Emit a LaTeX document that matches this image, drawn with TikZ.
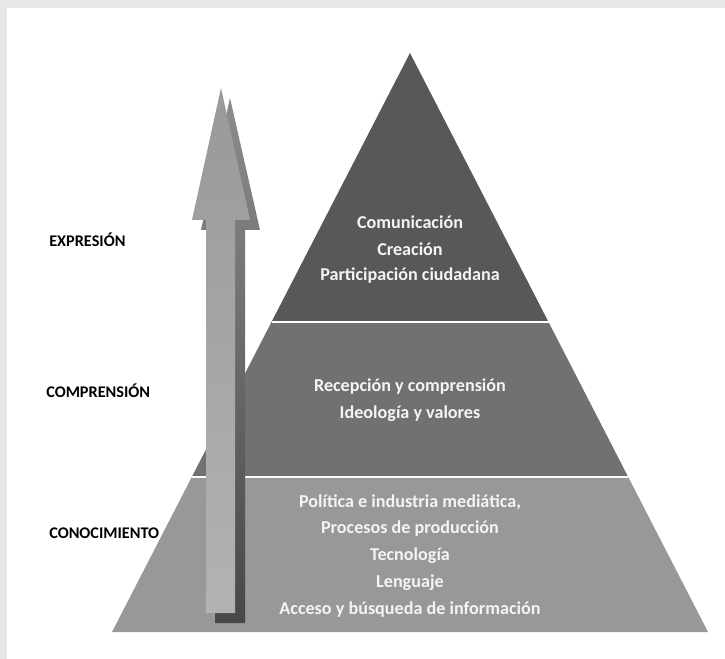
\documentclass[tikz,border=0pt]{standalone}
\usepackage{fontspec}
\setmainfont{Carlito}
\usetikzlibrary{positioning}

\definecolor{framegray}{HTML}{E6E7E8}
\definecolor{bandtop}{HTML}{585858}
\definecolor{bandmid}{HTML}{717171}
\definecolor{bandlow}{HTML}{989898}
\definecolor{textlight}{HTML}{F4F4F4}

\tikzset{
  level/.style={font=\bfseries\fontsize{12.2}{13}\selectfont, text=black, anchor=west, inner sep=0pt},
  item/.style={font=\bfseries\fontsize{13.6}{14}\selectfont, text=textlight, inner sep=0pt},
}

\begin{document}
\begin{tikzpicture}[x=0.75pt, y=-0.75pt, node distance=20.25pt]
        % frame
        \fill[framegray] (0,0) rectangle (725,659);
        \fill[white] (7,8) rectangle (725,659);
        \useasboundingbox (0,0) rectangle (725,659);
        % pyramid bands
        \fill[bandtop] (410,53) -- (548.5,322) -- (271.5,322) -- cycle;
        \fill[bandmid] (271.5,322) -- (548.5,322) -- (628.2,477) -- (191.8,477) -- cycle;
        \fill[bandlow] (191.8,477) -- (628.2,477) -- (708,632) -- (112,632) -- cycle;
        \draw[white, line width=2pt] (271.5,322) -- (548.5,322);
        \draw[white, line width=2pt] (191.8,477) -- (628.2,477);
        % arrow with shadow
        \shade[top color=black!45, bottom color=black!72]
            (215,623) -- (215,230) -- (201,230) -- (230,98) -- (260,230) -- (245,230) -- (245,623) -- cycle;
        \shade[top color=black!40, bottom color=black!30]
            (206,613) -- (206,220) -- (192,220) -- (221,88) -- (250,220) -- (235,220) -- (235,613) -- cycle;
        % levels
        \node[level] (expr) at (49,240) {EXPRESIÓN};
        \node[level] (comp) at (46,391) {COMPRENSIÓN};
        \node[level] (cono) at (49,533) {CONOCIMIENTO};
        % top band
        \node[item] (comu)                 at (410,222) {Comunicación};
        \node[item] (crea)  [below of=comu] {Creación};
        \node[item] (part)  [below of=crea] {Participación ciudadana};
        % middle band
        \node[item] (rece)                 at (410,387) {Recepción y comprensión};
        \node[item] (ideo)  [below of=rece] {Ideología y valores};
        % low band
        \node[item] (poli)                 at (410,502) {Política e industria mediática,};
        \node[item] (proc)  [below of=poli] {Procesos de producción};
        \node[item] (tecn)  [below of=proc] {Tecnología};
        \node[item] (leng)  [below of=tecn] {Lenguaje};
        \node[item] (acce)  [below of=leng] {Acceso y búsqueda de información};
    \end{tikzpicture}
\end{document}
